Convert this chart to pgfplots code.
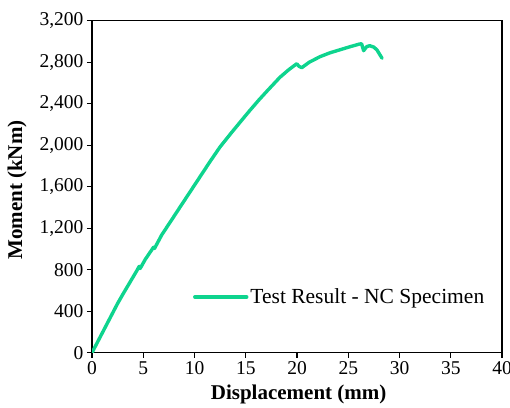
\documentclass[border=0pt]{standalone}
\usepackage{fontspec}
\setmainfont{Liberation Serif}
\usepackage{pgfplots}
\pgfplotsset{compat=1.18}
\definecolor{curvegreen}{RGB}{14,212,142}
\begin{document}
\begin{tikzpicture}
\useasboundingbox (-92pt,-54.3pt) rectangle (418pt,352.7pt);
\begin{axis}[
  scale only axis,
  width=410pt, height=332pt,
  xmin=0, xmax=40, ymin=0, ymax=3200,
  xtick={0,5,...,40},
  ytick={0,400,...,3200},
  axis line style={line width=1.1pt},
  tick style={line width=1.1pt, black},
  tick align=outside,
  major tick length=5pt,
  xtick pos=bottom, ytick pos=left,
  /pgf/number format/.cd, 1000 sep={,}, assume math mode=true,
  /pgfplots/.cd,
  tick label style={font=\fontsize{19.5}{22}\selectfont},
  xlabel={\textbf{Displacement (mm)}},
  ylabel={\textbf{Moment (kNm)}},
  xlabel style={font=\fontsize{21}{24}\selectfont, at={(axis description cs:0.504,-0.127)}, anchor=center},
  ylabel style={font=\fontsize{21}{24}\selectfont, at={(axis description cs:-0.183,0.49)}, anchor=center, rotate=0},
  legend style={at={(axis description cs:0.246,0.168)}, anchor=west, draw=none, fill=none,
    font=\fontsize{21.5}{24}\selectfont, inner xsep=0pt},
  legend image code/.code={\draw[#1] (0pt,0pt) -- (52pt,0pt);},
  legend cell align=left,
]
\addplot[curvegreen, line width=3.4pt, line join=round, line cap=round] coordinates {
(0,0) (0.5,95) (1.0,190) (1.5,285) (2.0,380) (2.5,475) (3.05,570) (3.8,695)
(4.4,795) (4.6,832) (4.7,812) (5.2,900) (5.82,990) (6.0,1016) (6.1,1005) (6.8,1135)
(7.77,1280) (8.6,1405) (9.4,1525) (10.5,1690) (11.5,1840) (12.49,1983) (13.5,2108)
(14.5,2228) (15.4,2335) (16.3,2438) (17.2,2535) (18.34,2655) (19.2,2728) (19.97,2785)
(20.2,2760) (20.46,2747) (21.2,2800) (22.24,2853) (23.2,2890) (24.2,2920) (25.2,2950)
(26.1,2975) (26.3,2978) (26.5,2911) (26.8,2950) (27.1,2959) (27.5,2945) (27.8,2918) (28.3,2838)
};
\addlegendentry{Test Result - NC Specimen}
\end{axis}
\end{tikzpicture}
\end{document}
